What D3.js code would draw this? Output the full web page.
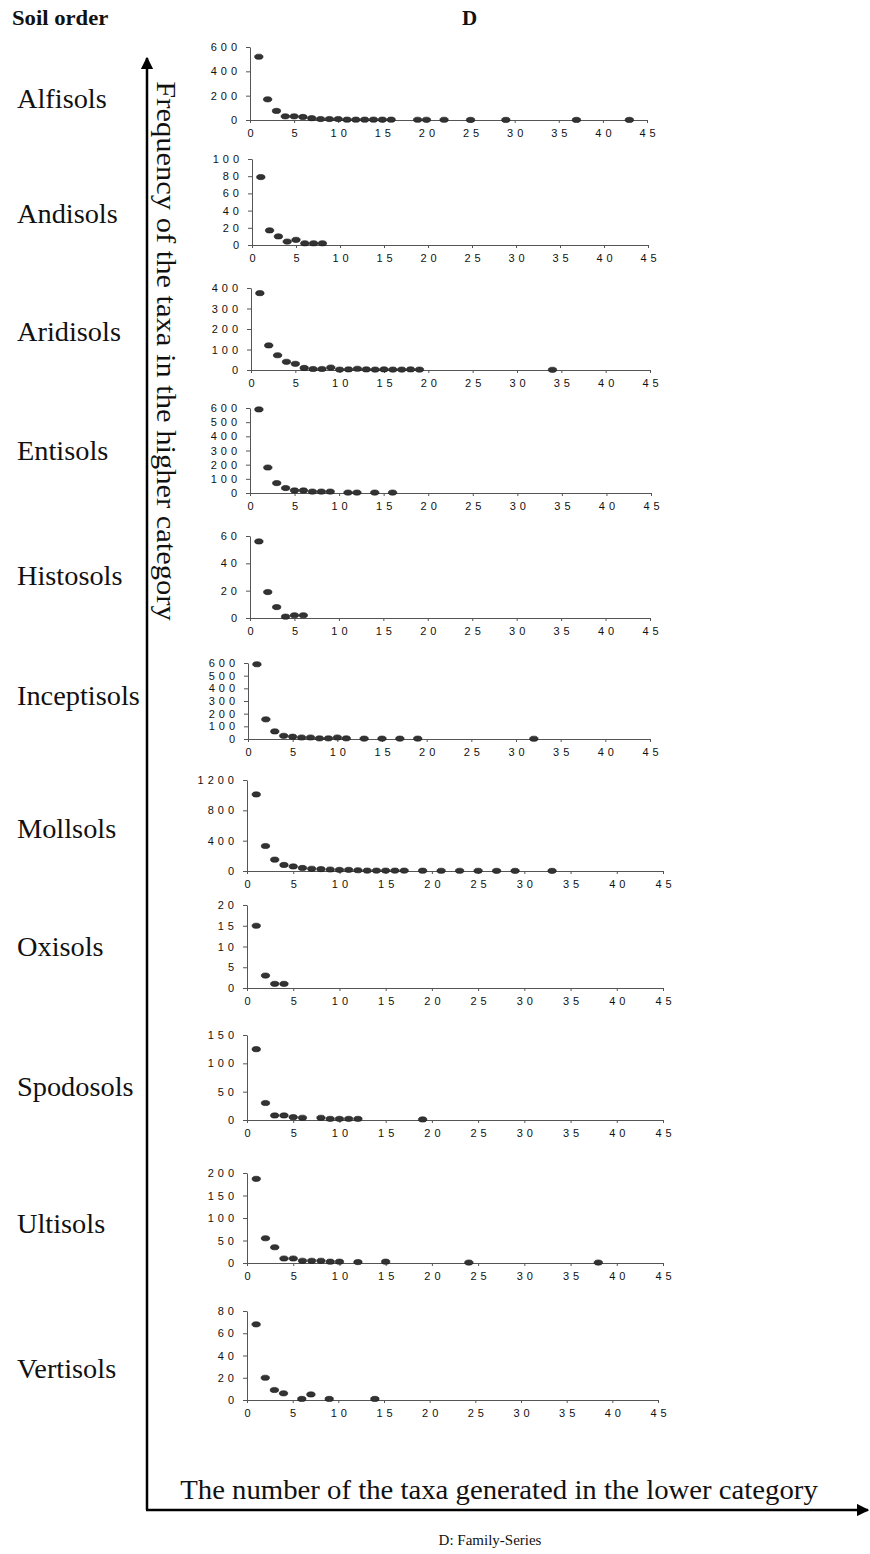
<!DOCTYPE html>
<html>
<head>
<meta charset="utf-8">
<style>
  body { margin: 0; background: #fff; }
  .tick text { font-family: "Liberation Sans", Arial, sans-serif; font-size: 11px; letter-spacing: 4px; fill: #111; }
  .serif { font-family: "Liberation Serif", "Times New Roman", serif; fill: #111; }
</style>
</head>
<body>
<div id="chart"></div>
<script src="https://d3js.org/d3.v7.min.js"></script>
<script>
  // data: [taxa generated in lower category, frequency]
  var alfisols = [[1,520],[2,170],[3,75],[4,30],[5,30],[6,25],[7,15],[8,8],[9,8],[10,8],[11,3],[12,3],[13,3],[14,3],[15,3],[16,3],[19,2],[20,2],[22,2],[25,1],[29,1],[37,1],[43,1]];
  var andisols = [[1,79],[2,17],[3,10],[4,4],[5,6],[6,2],[7,2],[8,2]];
  var aridisols = [[1,375],[2,120],[3,72],[4,40],[5,30],[6,10],[7,5],[8,5],[9,12],[10,2],[11,3],[12,6],[13,3],[14,2],[15,3],[16,2],[17,2],[18,3],[19,2],[34,1]];
  var entisols = [[1,590],[2,180],[3,70],[4,35],[5,18],[6,18],[7,10],[8,10],[9,10],[11,3],[12,3],[14,3],[16,3]];
  var histosols = [[1,56],[2,19],[3,8],[4,1],[5,2],[6,2]];
  var inceptisols = [[1,590],[2,155],[3,60],[4,25],[5,18],[6,12],[7,12],[8,5],[9,5],[10,12],[11,5],[13,3],[15,3],[17,3],[19,3],[32,2]];
  var mollsols = [[1,1010],[2,330],[3,150],[4,80],[5,60],[6,40],[7,30],[8,25],[9,20],[10,15],[11,15],[12,10],[13,5],[14,5],[15,5],[16,5],[17,5],[19,4],[21,3],[23,3],[25,3],[27,2],[29,2],[33,2]];
  var oxisols = [[1,15],[2,3],[3,1],[4,1]];
  var spodosols = [[1,125],[2,30],[3,8],[4,8],[5,5],[6,4],[8,4],[9,2],[10,2],[11,2],[12,2],[19,1]];
  var ultisols = [[1,187],[2,55],[3,35],[4,10],[5,10],[6,5],[7,5],[8,5],[9,3],[10,3],[12,2],[15,3],[24,1],[38,1]];
  var vertisols = [[1,68],[2,20],[3,9],[4,6],[6,1],[7,5],[9,1],[14,1]];

  var soilNames = ["Alfisols","Andisols","Aridisols","Entisols","Histosols","Inceptisols","Mollsols","Oxisols","Spodosols","Ultisols","Vertisols"];
  var soilData = [alfisols, andisols, aridisols, entisols, histosols, inceptisols, mollsols, oxisols, spodosols, ultisols, vertisols];
  var yTicks = [[0,200,400,600],[0,20,40,60,80,100],[0,100,200,300,400],[0,100,200,300,400,500,600],[0,20,40,60],[0,100,200,300,400,500,600],[0,400,800,1200],[0,5,10,15,20],[0,50,100,150],[0,50,100,150,200],[0,20,40,60,80]];
  var xTicks = [0,5,10,15,20,25,30,35,40,45];

  // panel layout: top (max tick) y, zero y, x start, x end, label baseline y
  var layout = [
    {top: 47, bot: 120, x0: 250, x1: 647, ly: 108},
    {top: 159, bot: 245, x0: 252, x1: 648, ly: 223},
    {top: 288, bot: 370, x0: 251, x1: 650, ly: 341},
    {top: 408, bot: 493, x0: 250, x1: 651, ly: 460},
    {top: 536, bot: 618, x0: 250, x1: 650, ly: 585},
    {top: 663, bot: 739, x0: 248, x1: 650, ly: 705},
    {top: 780, bot: 871, x0: 247, x1: 663, ly: 838},
    {top: 905, bot: 988, x0: 247, x1: 663, ly: 956},
    {top: 1035, bot: 1120, x0: 247, x1: 663, ly: 1096},
    {top: 1173, bot: 1263, x0: 247, x1: 663, ly: 1233},
    {top: 1311, bot: 1400, x0: 247, x1: 658, ly: 1378}
  ];

  var width = 870, height = 1554;
  var svg = d3.select("#chart").append("svg")
    .attr("width", width)
    .attr("height", height);

  // headers
  svg.append("text").attr("class", "serif")
    .attr("transform", "translate(12,25) scale(1.08,1)")
    .attr("font-size", "21px").attr("font-weight", "bold")
    .text("Soil order");
  svg.append("text").attr("class", "serif")
    .attr("x", 462).attr("y", 25)
    .attr("font-size", "21px").attr("font-weight", "bold")
    .text("D");

  // arrow marker
  svg.append("defs").append("marker")
    .attr("id", "arrow")
    .attr("viewBox", "0 0 10 10")
    .attr("refX", 9).attr("refY", 5)
    .attr("markerWidth", 5).attr("markerHeight", 5)
    .attr("orient", "auto")
    .append("path").attr("d", "M0,0 L10,5 L0,10 z").attr("fill", "#000");

  svg.append("line")
    .attr("x1", 147).attr("y1", 1510).attr("x2", 147).attr("y2", 58)
    .attr("stroke", "#000").attr("stroke-width", 2.5)
    .attr("marker-end", "url(#arrow)");
  svg.append("line")
    .attr("x1", 146).attr("y1", 1510).attr("x2", 868).attr("y2", 1510)
    .attr("stroke", "#000").attr("stroke-width", 2.5)
    .attr("marker-end", "url(#arrow)");

  svg.append("text").attr("class", "serif")
    .attr("transform", "translate(157,351) rotate(90) scale(1.13,1)")
    .attr("text-anchor", "middle")
    .attr("font-size", "27px")
    .text("Frequency of the taxa in the higher category");

  svg.append("text").attr("class", "serif")
    .attr("transform", "translate(499,1499) scale(1.065,1)")
    .attr("text-anchor", "middle")
    .attr("font-size", "27px")
    .text("The number of the taxa generated in the lower category");

  svg.append("text").attr("class", "serif")
    .attr("x", 490).attr("y", 1545)
    .attr("text-anchor", "middle")
    .attr("font-size", "15px")
    .text("D: Family-Series");

  for (var i = 0; i < soilNames.length; i++) {
    drawPanel(i);
  }

  function drawPanel(i) {
    var L = layout[i];
    var ticks = yTicks[i];
    var data = soilData[i];

    svg.append("text").attr("class", "serif")
      .attr("transform", "translate(17," + L.ly + ") scale(1.05,1)")
      .attr("font-size", "27px")
      .text(soilNames[i]);

    var xScale = d3.scaleLinear().domain([0, 45]).range([L.x0, L.x1]);
    var yScale = d3.scaleLinear().domain([0, d3.max(ticks)]).range([L.bot, L.top]);

    var yAxis = d3.axisLeft(yScale)
      .tickValues(ticks)
      .tickSize(4)
      .tickPadding(5)
      .tickSizeOuter(0)
      .tickFormat(d3.format("d"));
    var gy = svg.append("g")
      .attr("transform", "translate(" + L.x0 + ",0)")
      .call(yAxis);

    var xAxis = d3.axisBottom(xScale)
      .tickValues(xTicks)
      .tickSize(3)
      .tickPadding(6)
      .tickSizeOuter(0)
      .tickFormat(d3.format("d"));
    var gx = svg.append("g")
      .attr("transform", "translate(0," + L.bot + ")")
      .call(xAxis);

    [gy, gx].forEach(function(g) {
      g.select(".domain").attr("stroke", "#555").attr("stroke-width", 1);
      g.selectAll(".tick line").attr("stroke", "#555");
      g.selectAll(".tick text").attr("font-size", null).attr("font-family", null);
    });
    gx.selectAll(".tick text").attr("dx", "2px");

    svg.append("g").selectAll("ellipse")
      .data(data)
      .enter().append("ellipse")
      .attr("cx", function(d) { return xScale(d[0]); })
      .attr("cy", function(d) { return yScale(d[1]); })
      .attr("rx", 4.2)
      .attr("ry", 2.6)
      .attr("fill", "#333")
      .attr("stroke", "#111")
      .attr("stroke-width", 0.6);
  }
</script>
</body>
</html>
